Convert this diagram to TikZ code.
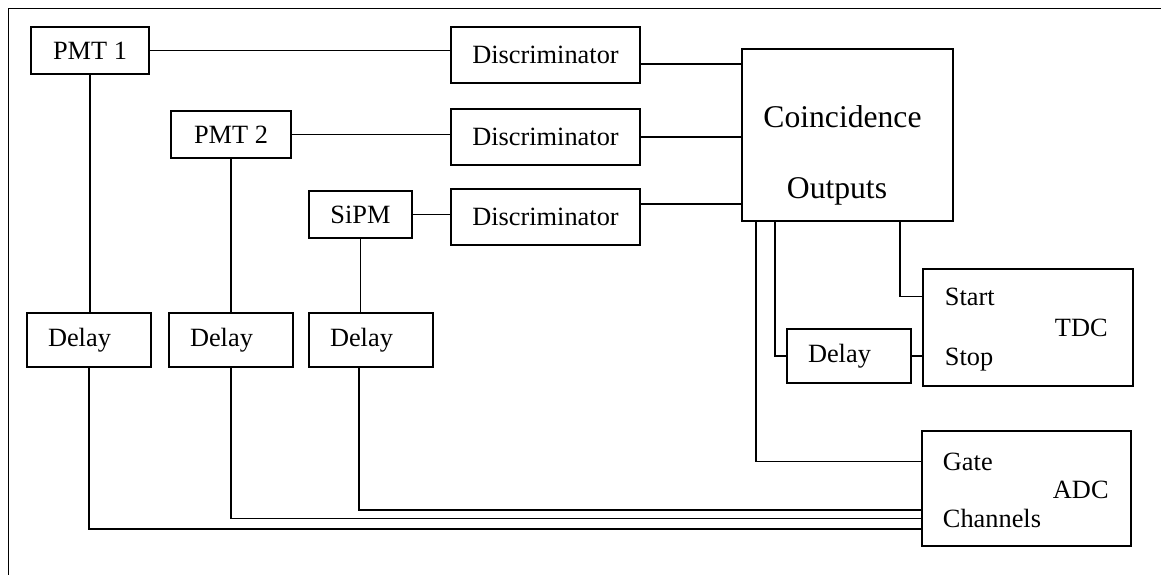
\documentclass[tikz,border=0pt]{standalone}
\usepackage{fontspec}
\setmainfont{Liberation Serif}
\usetikzlibrary{calc}
\begin{document}
\begin{tikzpicture}[x=0.02cm,y=-0.02cm,line width=1.1pt,
sysblock/.style={draw,rectangle,inner sep=0pt,font=\fontsize{15}{18}\selectfont},
discblock/.style={sysblock,minimum width=3.78cm,minimum height=1.12cm},
delayblock/.style={sysblock,minimum width=2.48cm,minimum height=1.08cm,text width=1.64cm,align=left},
tag/.style={inner sep=0pt,font=\fontsize{15}{18}\selectfont}]
\useasboundingbox (0,0) rectangle (1161,575);
\draw (8.5,575) -- (8.5,8.5) -- (1161,8.5);

% detectors and discriminators
\draw (90,50.5) node[sysblock,minimum width=2.36cm,minimum height=0.94cm] (pmt1) {PMT 1};
\draw (231,134.5) node[sysblock,minimum width=2.4cm,minimum height=0.94cm] (pmt2) {PMT 2};
\draw (360.5,214.5) node[sysblock,minimum width=2.06cm,minimum height=0.94cm] (sipm) {SiPM};
\draw (545.5,55) node[discblock] (disc1) {Discriminator};
\draw (545.5,137) node[discblock] (disc2) {Discriminator};
\draw (545.5,217) node[discblock] (disc3) {Discriminator};

% coincidence unit
\draw (847.5,135) node[sysblock,minimum width=4.22cm,minimum height=3.44cm] (coinc) {};
\draw (842.5,116.5) node[tag,font=\fontsize{18}{21}\selectfont] (cointxt) {Coincidence};
\draw (837,191) node[tag,font=\fontsize{18}{21}\selectfont] (outtxt) {Outputs};

\draw (89,340) node[delayblock] (delay1) {Delay};
\draw (231,340) node[delayblock] (delay2) {Delay};
\draw (371,340) node[delayblock] (delay3) {Delay};
\draw (849,356) node[delayblock] (delay4) {Delay};

% TDC and ADC
\draw (1028,327.5) node[sysblock,minimum width=4.2cm,minimum height=2.34cm] (tdc) {};
\draw (944,296.5) node[tag,anchor=west] (start) {Start};
\draw (944,360) node[tag,anchor=west] (stop) {Stop};
\draw (1054,328) node[tag,anchor=west] (tdctxt) {TDC};
\draw (1026.5,488.5) node[sysblock,minimum width=4.18cm,minimum height=2.3cm] (adc) {};
\draw (942,461.5) node[tag,anchor=west] (gate) {Gate};
\draw (1052,489.5) node[tag,anchor=west] (adctxt) {ADC};
\draw (942,518.5) node[tag,anchor=west] (chan) {Channels};

\draw (pmt1.0) -- (pmt1.0 -| disc1.180);
\draw (pmt2.0) -- (pmt2.0 -| disc2.180);
\draw (sipm.0) -- (sipm.0 -| disc3.180);
\draw (pmt1.270) -- (pmt1.270 |- delay1.90);
\draw (pmt2.270) -- (pmt2.270 |- delay2.90);
\draw (sipm.270) -- (sipm.270 |- delay3.90);

\draw ($(disc1.0)+(0,9)$) coordinate (d1) -- (d1 -| coinc.180);
\draw (disc2.0) -- (disc2.0 -| coinc.180);
\draw ($(disc3.0)+(0,-13)$) coordinate (d3) -- (d3 -| coinc.180);

\draw ($(coinc.south west)+(15,0)$) |- (gate.180 -| adc.180);
\draw ($(coinc.south west)+(34,0)$) |- (delay4.180);
\draw ($(coinc.south west)+(159,0)$) |- (start.180 -| tdc.180);
\draw (delay4.0) -- (delay4.0 -| tdc.180);

\draw ($(delay3.270)+(-12,0)$) |- ($(chan.180 -| adc.180)+(0,-8.5)$);
\draw (delay2.270) |- (chan.180 -| adc.180);
\draw (delay1.270) |- ($(chan.180 -| adc.180)+(0,10.5)$);
\end{tikzpicture}
\end{document}
